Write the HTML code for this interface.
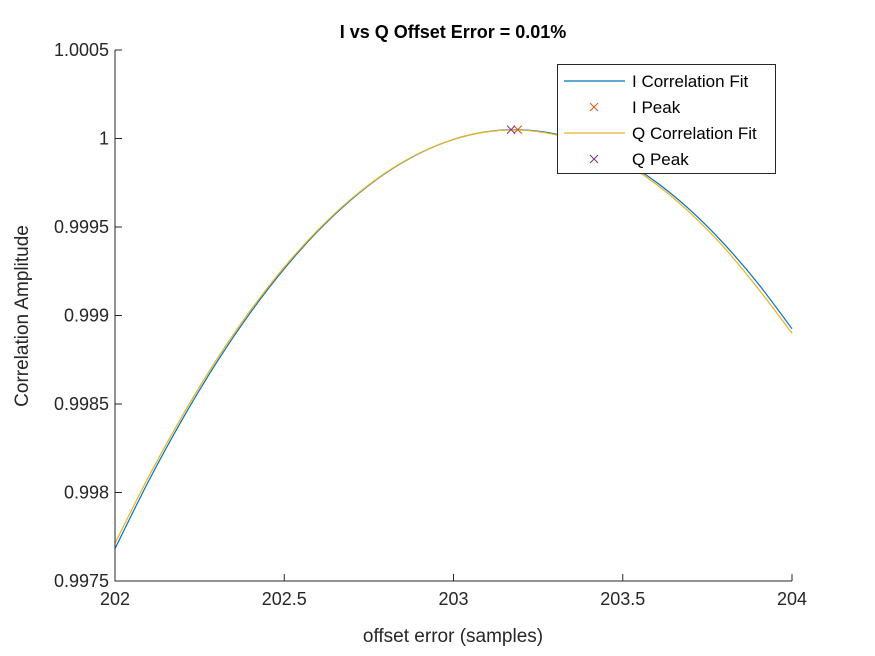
<!DOCTYPE html>
<html><head><meta charset="utf-8"><style>
body{margin:0;background:#fff;}
svg{display:block;font-family:"Liberation Sans",Arial,sans-serif;}
</style></head><body>
<svg id="chart" width="875" height="656"></svg>
<script>
const xs=[202,202.1,202.2,202.3,202.4,202.5,202.6,202.7,202.8,202.9,203,203.1,203.2,203.3,203.4,203.5,203.6,203.7,203.8,203.9,204];
const iFit=[.997683,.998067,.998417,.998734,.999016,.999264,.999478,.999658,.999805,.999917,.999995,1.000039,1.000049,1.000026,.999968,.999876,.999752,.999594,.999403,.999180,.998925];
const qFit=[.997713,.998092,.998437,.998750,.999028,.999273,.999484,.999662,.999807,.999918,.999995,1.000038,1.000047,1.000022,.999962,.999868,.999740,.999578,.999383,.999152,.998900];
const iPeak=[203.19,1.00005];
const qPeak=[203.17,1.00005];
const xTicks=[202,202.5,203,203.5,204];
const xTickLabels=["202","202.5","203","203.5","204"];
const yTicks=[0.9975,0.998,0.9985,0.999,0.9995,1,1.0005];
const yTickLabels=["0.9975","0.998","0.9985","0.999","0.9995","1","1.0005"];

const L=115,R=792,T=50,B=581;
const sx=v=>L+(v-202)/2*(R-L);
const sy=v=>B-(v-0.9975)/0.003*(B-T);
const svg=document.getElementById('chart');
const NS='http://www.w3.org/2000/svg';
function mk(tag,attrs,parent){const e=document.createElementNS(NS,tag);for(const k in attrs)e.setAttribute(k,attrs[k]);(parent||svg).appendChild(e);return e;}

function line(data,color,name){
  const P=data.map((v,i)=>[sx(xs[i]),sy(v)]);
  let d='M'+P[0][0].toFixed(2)+','+P[0][1].toFixed(2);
  for(let i=0;i<P.length-1;i++){
    const p0=P[Math.max(i-1,0)],p1=P[i],p2=P[i+1],p3=P[Math.min(i+2,P.length-1)];
    const c1=[p1[0]+(p2[0]-p0[0])/6,p1[1]+(p2[1]-p0[1])/6];
    const c2=[p2[0]-(p3[0]-p1[0])/6,p2[1]-(p3[1]-p1[1])/6];
    d+=`C${c1[0].toFixed(2)},${c1[1].toFixed(2)} ${c2[0].toFixed(2)},${c2[1].toFixed(2)} ${p2[0].toFixed(2)},${p2[1].toFixed(2)}`;
  }
  const p=mk('path',{d,fill:'none',stroke:color,'stroke-width':1.2});
  
  
}
line(iFit,'#0072BD','i-correlation-fit');
line(qFit,'#EDB120','q-correlation-fit');
function cross(x,y,color,name){
  const g=mk('path',{d:`M${x-4},${y-4}L${x+4},${y+4}M${x-4},${y+4}L${x+4},${y-4}`,stroke:color,'stroke-width':1,fill:'none'});
  
  
}
cross(sx(iPeak[0]),sy(iPeak[1]),'#D95319','i-peak-marker');
cross(sx(qPeak[0]),sy(qPeak[1]),'#7E2F8E','q-peak-marker');

let axes=mk('path',{d:`M${L},${T}V${B}H${R}`,fill:'none',stroke:'#262626','stroke-width':1});



xTicks.forEach((v,i)=>{
  const x=sx(v);
  mk('path',{d:`M${x},${B}v-7`,stroke:'#262626'});
  const t=mk('text',{x,y:B+24,'text-anchor':'middle','font-size':18,fill:'#262626'});
  t.textContent=xTickLabels[i];
  
  
});
yTicks.forEach((v,i)=>{
  const y=sy(v);
  mk('path',{d:`M${L},${y}h7`,stroke:'#262626'});
  const t=mk('text',{x:L-6,y:y+6,'text-anchor':'end','font-size':18,fill:'#262626'});
  t.textContent=yTickLabels[i];
  
  
});
let tt=mk('text',{x:453,y:38,'text-anchor':'middle','font-size':18,'font-weight':'bold',fill:'#000'});
tt.textContent='I vs Q Offset Error = 0.01%';


let xl=mk('text',{x:453,y:642,'text-anchor':'middle','font-size':19,fill:'#262626'});
xl.textContent='offset error (samples)';


let yl=mk('text',{x:0,y:0,'text-anchor':'middle','font-size':19,fill:'#262626',transform:'translate(28,316) rotate(-90)'});
yl.textContent='Correlation Amplitude';



let lg=mk('g',{});


mk('rect',{x:557.5,y:64.5,width:218,height:109,fill:'#fff',stroke:'#262626'},lg);
const entries=[['I Correlation Fit','line','#0072BD'],['I Peak','x','#D95319'],['Q Correlation Fit','line','#EDB120'],['Q Peak','x','#7E2F8E']];
entries.forEach((e,i)=>{
  const y=81+i*26;
  if(e[1]==='line') mk('path',{d:`M564,${y}H625`,stroke:e[2],'stroke-width':1.2},lg);
  else mk('path',{d:`M590,${y-4}l8,8M590,${y+4}l8,-8`,stroke:e[2]},lg);
  const t=mk('text',{x:632,y:y+6,'font-size':17,fill:'#000'},lg);
  t.textContent=e[0];
  
  
});
</script>
</body></html>
